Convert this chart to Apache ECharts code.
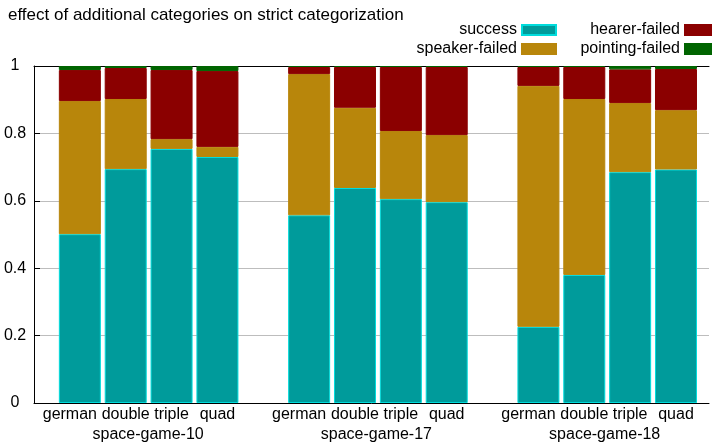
<!DOCTYPE html>
<html>
<head>
<meta charset="utf-8">
<script src="https://cdn.jsdelivr.net/npm/echarts@6/dist/echarts.min.js"></script>
<style>
  html, body { margin: 0; padding: 0; background: #ffffff; }
  #chart { width: 712px; height: 446px; }
</style>
</head>
<body>
<div id="chart"></div>
<script>
// Groups (games) and the category variants compared inside each group
const games = ['space-game-10', 'space-game-17', 'space-game-18'];
const variants = ['german', 'double', 'triple', 'quad'];

// Outcome fractions, one value per bar, ordered game by game, variant by variant
const success        = [0.501, 0.694, 0.754, 0.730,  0.557, 0.638, 0.605, 0.596,  0.226, 0.380, 0.685, 0.693];
const speakerFailed  = [0.395, 0.208, 0.029, 0.030,  0.419, 0.238, 0.202, 0.199,  0.715, 0.522, 0.205, 0.176];
const hearerFailed   = [0.092, 0.092, 0.205, 0.225,  0.021, 0.121, 0.190, 0.202,  0.056, 0.095, 0.100, 0.122];
const pointingFailed = [0.012, 0.006, 0.012, 0.015,  0.003, 0.003, 0.003, 0.003,  0.003, 0.003, 0.010, 0.009];

const titleText = 'effect of additional categories on strict categorization';

// Each game takes one slot per variant plus an empty separator slot
const groupStride = variants.length + 1;
const slotCount = games.length * groupStride - 1;

// Category slots for the bars (separator slots stay empty)
const slots = [];
for (let s = 0; s < slotCount; s++) {
  const k = s % groupStride;
  slots.push(k < variants.length ? variants[k] : '');
}

// Spread the per-bar values over the slot list, leaving separators blank
function toSlots(values) {
  const out = [];
  let i = 0;
  for (let s = 0; s < slotCount; s++) {
    if (s % groupStride < variants.length) out.push(values[i++]);
    else out.push('-');
  }
  return out;
}

const FONT = "'Liberation Sans', Arial, Helvetica, sans-serif";

// Frame axis spans from one slot left of the first bar to the right edge
const SLOT_PX = 45.857;
const FRAME_LEFT = 34;
const BAR_LEFT = FRAME_LEFT + SLOT_PX / 2;
const frameMin = -1;
const frameMax = frameMin + (712 - FRAME_LEFT) / SLOT_PX;

function gameLabel(v) {
  for (let g = 0; g < games.length; g++) {
    const centre = g * groupStride + (variants.length - 1) / 2;
    if (Math.abs(v - centre) < 1e-6) return games[g];
  }
  return '';
}

function barSeries(name, values, color, border) {
  return {
    name: name,
    type: 'bar',
    stack: 'outcome',
    barWidth: 42,
    xAxisIndex: 3,
    yAxisIndex: 1,
    itemStyle: { color: color, borderColor: border, borderWidth: 1 },
    emphasis: { disabled: true },
    data: toSlots(values)
  };
}

function legendFor(name, right, top) {
  return {
    data: [name],
    right: right,
    top: top,
    padding: 0,
    align: 'right',
    icon: 'rect',
    itemWidth: 34,
    itemHeight: 10,
    selectedMode: false,
    textStyle: { fontFamily: FONT, fontSize: 16, color: '#000000' }
  };
}

const chart = echarts.init(document.getElementById('chart'), null, { renderer: 'canvas' });

chart.setOption({
  animation: false,
  backgroundColor: '#ffffff',
  textStyle: { fontFamily: FONT },
  title: {
    text: titleText,
    left: 8,
    top: 7,
    padding: 0,
    textStyle: { fontFamily: FONT, fontSize: 17, fontWeight: 'normal', color: '#000000' }
  },
  legend: [
    legendFor('success', 155, 22),
    legendFor('speaker-failed', 155, 41),
    legendFor('hearer-failed', -8, 22),
    legendFor('pointing-failed', -8, 41)
  ],
  grid: [
    { left: FRAME_LEFT, right: 0, top: 66, bottom: 43, containLabel: false },
    { left: BAR_LEFT, width: SLOT_PX * slotCount, top: 66, bottom: 43, containLabel: false }
  ],
  xAxis: [
    {
      // bottom frame line
      gridIndex: 0,
      type: 'value',
      min: frameMin,
      max: frameMax,
      position: 'bottom',
      axisLine: { show: true, onZero: false, lineStyle: { color: '#000000', width: 1 } },
      axisTick: { show: false },
      axisLabel: { show: false },
      splitLine: { show: false }
    },
    {
      // game names under each group
      gridIndex: 0,
      type: 'value',
      min: frameMin,
      max: frameMax,
      interval: 0.5,
      position: 'bottom',
      offset: 21,
      axisLine: { show: false },
      axisTick: { show: false },
      splitLine: { show: false },
      axisLabel: {
        margin: 3,
        fontFamily: FONT,
        fontSize: 16,
        color: '#000000',
        formatter: gameLabel
      }
    },
    {
      // top frame line
      gridIndex: 0,
      type: 'value',
      min: frameMin,
      max: frameMax,
      position: 'top',
      axisLine: { show: true, onZero: false, lineStyle: { color: '#000000', width: 1 } },
      axisTick: { show: false },
      axisLabel: { show: false },
      splitLine: { show: false }
    },
    {
      // bar slots with variant names
      gridIndex: 1,
      type: 'category',
      data: slots,
      position: 'bottom',
      axisLine: { show: false },
      axisTick: { show: false },
      splitLine: { show: false },
      axisLabel: {
        interval: 0,
        margin: 4,
        fontFamily: FONT,
        fontSize: 16,
        color: '#000000',
        formatter: v => (v === variants[0] ? '{first|' + v + '}' : v),
        rich: { first: { fontFamily: FONT, fontSize: 16, color: '#000000', padding: [0, 20, 0, 0] } }
      }
    }
  ],
  yAxis: [
    {
      gridIndex: 0,
      type: 'value',
      min: 0,
      max: 1,
      interval: 0.2,
      axisLine: { show: true, onZero: false, lineStyle: { color: '#000000', width: 1 } },
      axisTick: { show: true, inside: true, length: 6, lineStyle: { color: '#000000' } },
      splitLine: { show: true, lineStyle: { color: '#bdbdbd', width: 1 } },
      axisLabel: {
        align: 'center',
        margin: 19,
        fontFamily: FONT,
        fontSize: 16,
        color: '#000000'
      }
    },
    {
      gridIndex: 1,
      type: 'value',
      min: 0,
      max: 1,
      show: false
    }
  ],
  series: [
    barSeries('success', success, '#009b9b', '#00dcdc'),
    barSeries('speaker-failed', speakerFailed, '#b8860b', '#b8860b'),
    barSeries('hearer-failed', hearerFailed, '#8b0000', '#8b0000'),
    barSeries('pointing-failed', pointingFailed, '#006400', '#006400')
  ]
});
</script>
</body>
</html>
